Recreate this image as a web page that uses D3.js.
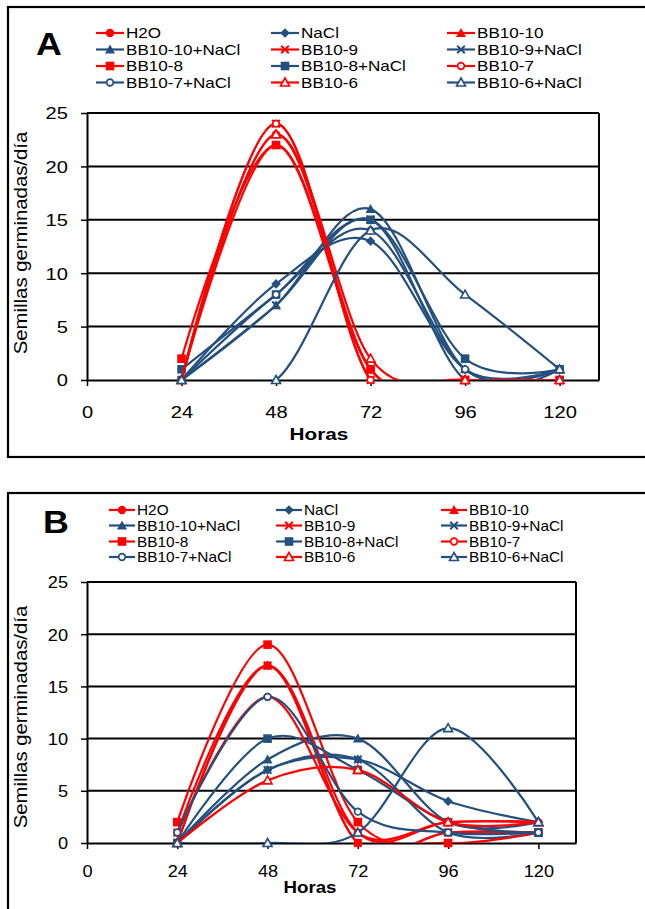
<!DOCTYPE html>
<html>
<head>
<meta charset="utf-8">
<script src="https://cdn.jsdelivr.net/npm/d3@7"></script>
<style>
  body { margin: 0; background: #fff; }
  svg { display: block; font-family: "Liberation Sans", Arial, sans-serif; }
</style>
</head>
<body>
<div id="chart"></div>
<script>
// germination per day, hours after sowing
const hours = [24, 48, 72, 96, 120];
const xTicks = [0, 24, 48, 72, 96, 120];
const yTicks = [0, 5, 10, 15, 20, 25];

const seriesNames = ["H2O", "NaCl", "BB10-10", "BB10-10+NaCl", "BB10-9", "BB10-9+NaCl",
                     "BB10-8", "BB10-8+NaCl", "BB10-7", "BB10-7+NaCl", "BB10-6", "BB10-6+NaCl"];

// panel A, one row per series, same order as seriesNames
const valuesA = [
  [0, 23, 1, 0, 0],
  [0, 9, 13, 1, 1],
  [0, 22, 1, 0, 0],
  [0, 7, 16, 1, 1],
  [0, 24, 0, 0, 0],
  [0, 7, 15, 0, 1],
  [2, 22, 1, 0, 0],
  [1, 8, 15, 2, 1],
  [0, 24, 0, 0, 0],
  [0, 8, 14, 1, 0],
  [0, 23, 2, 0, 0],
  [0, 0, 14, 8, 1]
];

// panel B
const valuesB = [
  [0, 17, 0, 1, 1],
  [0, 7, 8, 4, 2],
  [0, 17, 1, 2, 2],
  [0, 8, 10, 2, 2],
  [1, 17, 0, 1, 1],
  [0, 7, 8, 1, 1],
  [2, 19, 2, 0, 1],
  [0, 10, 7, 2, 1],
  [1, 14, 1, 2, 2],
  [1, 14, 3, 1, 1],
  [0, 6, 7, 2, 2],
  [0, 0, 1, 11, 2]
];

const RED = "#ff0000";
const BLUE = "#24507f";
const markerByName = {
  "H2O": "circle", "NaCl": "diamond",
  "BB10-10": "triangle", "BB10-10+NaCl": "triangle",
  "BB10-9": "cross", "BB10-9+NaCl": "cross",
  "BB10-8": "square", "BB10-8+NaCl": "square",
  "BB10-7": "ocircle", "BB10-7+NaCl": "ocircle",
  "BB10-6": "otriangle", "BB10-6+NaCl": "otriangle"
};
const colorOf = name => (name === "NaCl" || name.endsWith("+NaCl")) ? BLUE : RED;

const W = 645, H = 909;
const svg = d3.select("#chart").append("svg").attr("width", W).attr("height", H);

const panels = [
  { key: "A", values: valuesA, left: 87, right: 599, top: 113, bottom: 380,
    boxTop: 7, boxBottom: 457, sx: 1.22,
    letter: [36, 55], legendRows: [33, 49.5, 66, 82.5], legendCols: [96, 271, 447], sampleLen: 28,
    tickBase: 417.5, titleX: 319, titleBase: 440, yTitle: [21, 243] },
  { key: "B", values: valuesB, left: 87, right: 576, top: 582, bottom: 843,
    boxTop: 493, boxBottom: 1000, sx: 1.1,
    letter: [43, 533], legendRows: [510, 525.5, 541.5, 557], legendCols: [109, 276, 441], sampleLen: 26,
    tickBase: 877, titleX: 310, titleBase: 893, yTitle: [21, 717] }
];

function stretchedText(g, x, y, str, sx, size, anchor, weight) {
  return g.append("text")
    .attr("transform", `translate(${x},${y}) scale(${sx},1)`)
    .attr("text-anchor", anchor || "start")
    .attr("font-size", size)
    .attr("font-weight", weight || "normal")
    .attr("fill", "#000")
    .text(str);
}

function drawMarker(g, type, cx, cy, color) {
  const m = g.append("g").attr("transform", `translate(${cx},${cy})`);
  if (type === "circle") {
    m.append("circle").attr("r", 4.2).attr("fill", color);
  } else if (type === "diamond") {
    m.append("path").attr("d", "M0,-4.8L4.8,0L0,4.8L-4.8,0Z").attr("fill", color);
  } else if (type === "triangle") {
    m.append("path").attr("d", "M0,-5L5,4L-5,4Z").attr("fill", color);
  } else if (type === "cross") {
    m.append("path").attr("d", "M-3.8,-3.8L3.8,3.8M-3.8,3.8L3.8,-3.8")
      .attr("stroke", color).attr("stroke-width", 2);
  } else if (type === "square") {
    m.append("rect").attr("x", -4.3).attr("y", -4.3).attr("width", 8.6).attr("height", 8.6).attr("fill", color);
  } else if (type === "ocircle") {
    m.append("circle").attr("r", 3.3).attr("fill", "#fff").attr("stroke", color).attr("stroke-width", 1.7);
  } else if (type === "otriangle") {
    m.append("path").attr("d", "M0,-4.5L4.5,3.5L-4.5,3.5Z").attr("fill", "#fff")
      .attr("stroke", color).attr("stroke-width", 1.6);
  }
}

function drawPanel(p) {
  const g = svg.append("g");
  const x = d3.scaleLinear().domain([0, 130]).range([p.left, p.right]);
  const y = d3.scaleLinear().domain([0, 25]).range([p.bottom, p.top]);

  // outer frame
  g.append("rect")
    .attr("x", 8).attr("y", p.boxTop)
    .attr("width", 720).attr("height", p.boxBottom - p.boxTop)
    .attr("fill", "none").attr("stroke", "#000").attr("stroke-width", 2.2);

  // gridlines
  g.append("g").selectAll("line").data(yTicks.slice(1)).join("line")
    .attr("x1", p.left).attr("x2", p.right)
    .attr("y1", d => y(d)).attr("y2", d => y(d))
    .attr("stroke", "#000").attr("stroke-width", 2);
  g.append("line")
    .attr("x1", p.right).attr("x2", p.right).attr("y1", y(25)).attr("y2", y(0))
    .attr("stroke", "#000").attr("stroke-width", 2);

  // axes
  const yAxis = g.append("g").attr("transform", `translate(${p.left},0)`)
    .call(d3.axisLeft(y).tickValues(yTicks).tickSize(6).tickSizeOuter(0));
  yAxis.select(".domain").attr("stroke-width", 2);
  yAxis.selectAll(".tick line").attr("stroke-width", 1.5);
  yAxis.selectAll(".tick text").each(function () {
    d3.select(this).attr("x", null).attr("dy", null)
      .attr("transform", `translate(-19,5.8) scale(${p.sx},1)`)
      .attr("font-size", 16.5).attr("fill", "#000")
      .attr("font-family", "Liberation Sans, Arial, sans-serif");
  });

  const xAxis = g.append("g").attr("transform", `translate(0,${p.bottom})`)
    .call(d3.axisBottom(x).tickValues(xTicks).tickSize(6).tickSizeOuter(0));
  xAxis.select(".domain").attr("stroke-width", 2);
  xAxis.selectAll(".tick line").attr("stroke-width", 1.5);
  xAxis.selectAll(".tick text").each(function () {
    d3.select(this).attr("y", null).attr("dy", null)
      .attr("transform", `translate(0,${p.tickBase - p.bottom}) scale(${p.sx},1)`)
      .attr("font-size", 16.5).attr("fill", "#000")
      .attr("font-family", "Liberation Sans, Arial, sans-serif");
  });

  // titles
  stretchedText(g, p.titleX, p.titleBase, "Horas", p.sx, 17, "middle", "bold");
  g.append("text")
    .attr("transform", `translate(${p.yTitle[0]},${p.yTitle[1]}) rotate(-90) scale(1.13,1)`)
    .attr("text-anchor", "middle").attr("dy", "0.35em")
    .attr("font-size", 18).attr("fill", "#000")
    .text("Semillas germinadas/día");
  stretchedText(g, p.letter[0], p.letter[1], p.key, 1.12, 32, "start", "bold");

  // series
  const clipId = "clip-" + p.key;
  g.append("clipPath").attr("id", clipId).append("rect")
    .attr("x", p.left).attr("y", p.top).attr("width", p.right - p.left).attr("height", p.bottom - p.top);

  const line = d3.line()
    .x(d => x(d.h))
    .y(d => y(d.v))
    .curve(d3.curveCatmullRom.alpha(0));

  seriesNames.forEach((name, i) => {
    const pts = hours.map((h, j) => ({ h: h, v: p.values[i][j] }));
    g.append("path")
      .datum(pts)
      .attr("d", line)
      .attr("fill", "none")
      .attr("stroke", colorOf(name))
      .attr("stroke-width", 2.2)
      .attr("clip-path", `url(#${clipId})`);
    pts.forEach(d => drawMarker(g, markerByName[name], x(d.h), y(d.v), colorOf(name)));
  });

  // legend, three columns
  seriesNames.forEach((name, i) => {
    const cy = p.legendRows[Math.floor(i / 3)];
    const x0 = p.legendCols[i % 3];
    g.append("line")
      .attr("x1", x0).attr("x2", x0 + p.sampleLen).attr("y1", cy).attr("y2", cy)
      .attr("stroke", colorOf(name)).attr("stroke-width", 2.2);
    drawMarker(g, markerByName[name], x0 + p.sampleLen / 2, cy, colorOf(name));
    stretchedText(g, x0 + p.sampleLen + 2, cy + 5, name, p.sx, 14, "start");
  });
}

panels.forEach(drawPanel);
</script>
</body>
</html>
